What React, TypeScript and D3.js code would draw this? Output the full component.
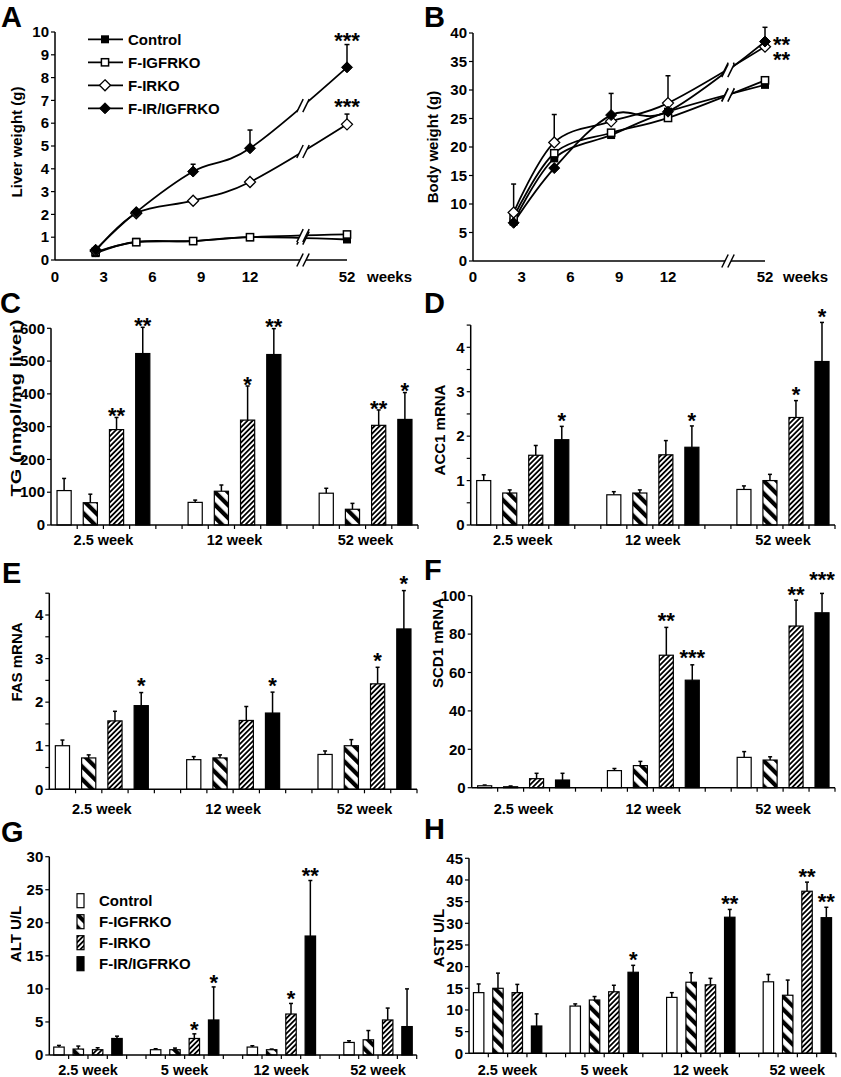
import React from 'react';
import * as d3 from 'd3';

const FONT = "'Liberation Sans', Arial, Helvetica, sans-serif";

const seriesNames = ['Control', 'F-IGFRKO', 'F-IRKO', 'F-IR/IGFRKO'];

// ---------- Panels A & B (line charts) ----------
const lineWeeks = [2.5, 5, 8.5, 12, 52];
const weekTicks = [0, 3, 6, 9, 12, 52];

const liverControl = [0.3, 0.8, 0.83, 1.0, 0.9];
const liverIgfrko = [0.35, 0.78, 0.83, 1.0, 1.12];
const liverIrko = [0.4, 2.05, 2.6, 3.42, 5.95];
const liverDko = [0.45, 2.1, 3.88, 4.9, 8.45];
const liverControlErr = [0, 0, 0, 0, 0];
const liverIgfrkoErr = [0, 0, 0, 0, 0];
const liverIrkoErr = [0, 0, 0, 0, 0.45];
const liverDkoErr = [0, 0, 0.32, 0.8, 1.0];
const liverStars = ['', '', '***', '***'];
const liverTicks = [0, 1, 2, 3, 4, 5, 6, 7, 8, 9, 10];

const bodyControl = [6.9, 18.0, 22.1, 26.2, 30.9];
const bodyIgfrko = [7.7, 18.9, 22.5, 25.1, 31.7];
const bodyIrko = [8.5, 20.8, 24.5, 27.7, 37.6];
const bodyDko = [6.7, 16.3, 25.6, 26.2, 38.5];
const bodyControlErr = [0, 0, 0, 0, 0];
const bodyIgfrkoErr = [0, 0, 0, 0, 0.6];
const bodyIrkoErr = [5.0, 4.9, 0, 4.8, 0];
const bodyDkoErr = [0, 0, 3.8, 0, 2.5];
const bodyStars = ['', '', '**', '**'];
const bodyTicks = [0, 5, 10, 15, 20, 25, 30, 35, 40];

// ---------- Bar panels ----------
const groups3 = ['2.5 week', '12 week', '52 week'];
const groups4 = ['2.5 week', '5 week', '12 week', '52 week'];

// C: TG
const tgControl = [105, 69, 97];
const tgIgfrko = [68, 103, 48];
const tgIrko = [291, 320, 304];
const tgDko = [523, 520, 322];
const tgControlErr = [37, 7, 15];
const tgIgfrkoErr = [26, 19, 18];
const tgIrkoErr = [37, 104, 47];
const tgDkoErr = [80, 79, 82];
const tgIrkoStars = ['**', '*', '**'];
const tgDkoStars = ['**', '**', '*'];
const tgTicks = [0, 100, 200, 300, 400, 500, 600];

// D: ACC1
const acc1Control = [1.0, 0.68, 0.8];
const acc1Igfrko = [0.72, 0.72, 1.0];
const acc1Irko = [1.57, 1.58, 2.42];
const acc1Dko = [1.92, 1.75, 3.68];
const acc1ControlErr = [0.13, 0.07, 0.08];
const acc1IgfrkoErr = [0.07, 0.07, 0.14];
const acc1IrkoErr = [0.22, 0.32, 0.38];
const acc1DkoErr = [0.3, 0.48, 0.88];
const acc1IrkoStars = ['', '', '*'];
const acc1DkoStars = ['*', '*', '*'];
const mrnaTicks = [0, 1, 2, 3, 4];

// E: FAS
const fasControl = [1.0, 0.68, 0.8];
const fasIgfrko = [0.72, 0.72, 1.0];
const fasIrko = [1.57, 1.58, 2.42];
const fasDko = [1.92, 1.75, 3.68];
const fasControlErr = [0.13, 0.07, 0.08];
const fasIgfrkoErr = [0.07, 0.07, 0.14];
const fasIrkoErr = [0.22, 0.32, 0.38];
const fasDkoErr = [0.3, 0.48, 0.88];
const fasIrkoStars = ['', '', '*'];
const fasDkoStars = ['*', '*', '*'];

// F: SCD1
const scdControl = [1.0, 8.9, 15.8];
const scdIgfrko = [0.5, 11.5, 14.4];
const scdIrko = [4.7, 69, 84.2];
const scdDko = [4.0, 56, 91.1];
const scdControlErr = [0.4, 1.1, 3.0];
const scdIgfrkoErr = [0.4, 2.2, 1.7];
const scdIrkoErr = [2.8, 14.5, 13.5];
const scdDkoErr = [3.5, 8, 10.1];
const scdIrkoStars = ['', '**', '**'];
const scdDkoStars = ['', '***', '***'];
const scdTicks = [0, 20, 40, 60, 80, 100];

// G: ALT
const altControl = [1.2, 0.8, 1.2, 1.9];
const altIgfrko = [0.9, 0.8, 0.8, 2.3];
const altIrko = [0.8, 2.5, 6.2, 5.3];
const altDko = [2.5, 5.3, 18.0, 4.3];
const altControlErr = [0.25, 0.15, 0.2, 0.25];
const altIgfrkoErr = [0.45, 0.25, 0.1, 1.4];
const altIrkoErr = [0.3, 0.7, 1.6, 1.8];
const altDkoErr = [0.35, 5.0, 8.4, 5.7];
const altIrkoStars = ['', '*', '*', ''];
const altDkoStars = ['', '*', '**', ''];
const altTicks = [0, 5, 10, 15, 20, 25, 30];

// H: AST
const astControl = [14.0, 10.9, 12.9, 16.5];
const astIgfrko = [15.0, 12.3, 16.4, 13.4];
const astIrko = [14.0, 14.2, 15.8, 37.4];
const astDko = [6.3, 18.7, 31.4, 31.3];
const astControlErr = [2.0, 0.5, 1.1, 1.7];
const astIgfrkoErr = [3.5, 0.8, 2.2, 3.5];
const astIrkoErr = [1.9, 1.5, 1.5, 2.1];
const astDkoErr = [2.8, 1.6, 1.8, 2.4];
const astIrkoStars = ['', '', '', '**'];
const astDkoStars = ['', '*', '**', '**'];
const astTicks = [0, 5, 10, 15, 20, 25, 30, 35, 40, 45];

const STAR_FS = 22;

function cardinalYAt(px: number[], py: number[], xt: number): number {
  const n = px.length;
  const k = 1 / 6;
  for (let i = 0; i < n - 1; i++) {
    if (xt >= px[i] && xt <= px[i + 1]) {
      const x0 = i > 0 ? px[i - 1] : px[i + 1];
      const y0 = i > 0 ? py[i - 1] : py[i + 1];
      const x3 = i + 2 < n ? px[i + 2] : px[i];
      const y3 = i + 2 < n ? py[i + 2] : py[i];
      const c1x = px[i] + k * (px[i + 1] - x0);
      const c1y = py[i] + k * (py[i + 1] - y0);
      const c2x = px[i + 1] + k * (px[i] - x3);
      const c2y = py[i + 1] + k * (py[i] - y3);
      const bz = (a: number, b: number, c: number, d: number, t: number) =>
        (1 - t) ** 3 * a + 3 * (1 - t) ** 2 * t * b + 3 * (1 - t) * t * t * c + t ** 3 * d;
      let lo = 0, hi = 1;
      for (let it = 0; it < 40; it++) {
        const m = (lo + hi) / 2;
        if (bz(px[i], c1x, c2x, px[i + 1], m) < xt) lo = m; else hi = m;
      }
      return bz(py[i], c1y, c2y, py[i + 1], (lo + hi) / 2);
    }
  }
  return py[n - 1];
}

function BreakMark({ cx, cy }: { cx: number; cy: number }) {
  const g = 3, h = 6.5, s = 3.2;
  return (
    <g>
      <polygon
        points={`${cx - g - s},${cy + h} ${cx + g - s},${cy + h} ${cx + g + s},${cy - h} ${cx - g + s},${cy - h}`}
        fill="#fff"
      />
      <line x1={cx - g - s} y1={cy + h} x2={cx - g + s} y2={cy - h} stroke="#000" strokeWidth={1.5} />
      <line x1={cx + g - s} y1={cy + h} x2={cx + g + s} y2={cy - h} stroke="#000" strokeWidth={1.5} />
    </g>
  );
}

function Marker({ kind, cx, cy }: { kind: number; cx: number; cy: number }) {
  if (kind === 0) return <rect x={cx - 4} y={cy - 4} width={8} height={8} fill="#000" />;
  if (kind === 1)
    return <rect x={cx - 3.6} y={cy - 3.6} width={7.2} height={7.2} fill="#fff" stroke="#000" strokeWidth={1.5} />;
  const r = 5.5;
  const d = `M${cx},${cy - r}L${cx + r},${cy}L${cx},${cy + r}L${cx - r},${cy}Z`;
  if (kind === 2) return <path d={d} fill="#fff" stroke="#000" strokeWidth={1.3} />;
  return <path d={d} fill="#000" stroke="#000" strokeWidth={1} />;
}

function PanelLetter({ x, y, t }: { x: number; y: number; t: string }) {
  return (
    <text x={x} y={y} fontSize={29} fontWeight="bold">
      {t}
    </text>
  );
}

function YTitle({ cx, cy, t, len }: { cx: number; cy: number; t: string; len?: number }) {
  return (
    <text
      transform={`translate(${cx},${cy}) rotate(-90)`}
      textAnchor="middle"
      dy="0.35em"
      fontSize={15}
      fontWeight="bold"
      {...(len ? { textLength: len, lengthAdjust: 'spacingAndGlyphs' } : {})}
    >
      {t}
    </text>
  );
}

function LinePanel(p: any) {
  const { L, vals, errs, stars, yMax, ticks, legend } = p;
  const x = d3.scaleLinear().domain([0, 12, 52]).range([L.left, L.x12, L.x52]);
  const y = d3.scaleLinear().domain([0, yMax]).range([L.y0, L.yTop]);
  const line = d3
    .line<number>()
    .x((_, i) => x(lineWeeks[i]))
    .y((d) => y(d))
    .curve(d3.curveCardinal.tension(0));
  const px = lineWeeks.map((w) => x(w));
  const last = lineWeeks.length - 1;
  const starItems = stars
    .map((s: string, si: number) => ({ s, si }))
    .filter((o: any) => o.s);
  return (
    <g>
      <line x1={L.left} y1={L.y0} x2={L.x52} y2={L.y0} stroke="#000" strokeWidth={1.5} />
      <line x1={L.left} y1={L.y0} x2={L.left} y2={L.yTop} stroke="#000" strokeWidth={1.5} />
      {ticks.map((t: number) => (
        <g key={t}>
          <line x1={L.left - 4} x2={L.left} y1={y(t)} y2={y(t)} stroke="#000" strokeWidth={1.2} />
          <text x={L.left - 6} y={y(t)} dy="0.35em" textAnchor="end" fontSize={15} fontWeight="bold">
            {t}
          </text>
        </g>
      ))}
      {weekTicks.map((w) => (
        <text key={w} x={x(w)} y={L.xLabY} textAnchor="middle" fontSize={15} fontWeight="bold">
          {w}
        </text>
      ))}
      <text x={L.weeksX} y={L.xLabY} fontSize={15} fontWeight="bold">
        weeks
      </text>
      <BreakMark cx={L.brk} cy={L.y0} />
      {vals.map((v: number[], si: number) => (
        <path key={si} d={line(v) || ''} fill="none" stroke="#000" strokeWidth={1.8} />
      ))}
      {vals.map((v: number[], si: number) => (
        <BreakMark key={si} cx={L.brk} cy={cardinalYAt(px, v.map((d) => y(d)), L.brk)} />
      ))}
      {vals.map((v: number[], si: number) =>
        v.map((d, i) =>
          errs[si][i] > 0 ? (
            <g key={`${si}-${i}`}>
              <line x1={px[i]} x2={px[i]} y1={y(d)} y2={y(d + errs[si][i])} stroke="#000" strokeWidth={1.5} />
              <line x1={px[i] - 2.5} x2={px[i] + 2.5} y1={y(d + errs[si][i])} y2={y(d + errs[si][i])} stroke="#000" strokeWidth={1.5} />
            </g>
          ) : null
        )
      )}
      {vals.map((v: number[], si: number) =>
        v.map((d, i) => <Marker key={`${si}-${i}`} kind={si} cx={px[i]} cy={y(d)} />)
      )}
      {L.starRight ? (
        <text fontSize={STAR_FS} fontWeight="bold">
          {starItems
            .slice()
            .reverse()
            .map((o: any) => (
              <tspan key={o.si} x={L.x52 + 8} y={y(vals[o.si][last]) + L.starDy[o.si]}>
                {o.s}
              </tspan>
            ))}
        </text>
      ) : (
        starItems.map((o: any) => {
          const top = vals[o.si][last] + errs[o.si][last];
          return (
            <text key={o.si} x={x(52)} y={y(top) - L.starGap[o.si] + 0.44 * STAR_FS} textAnchor="middle" fontSize={STAR_FS} fontWeight="bold">
              {o.s}
            </text>
          );
        })
      )}
      {legend &&
        seriesNames.map((n, i) => {
          const ly = L.legY + i * L.legStep;
          return (
            <g key={n}>
              <line x1={L.legX} x2={L.legX + 35} y1={ly} y2={ly} stroke="#000" strokeWidth={1.8} />
              <Marker kind={i} cx={L.legX + 17} cy={ly} />
              <text x={L.legX + 40} y={ly} dy="0.35em" fontSize={15} fontWeight="bold">
                {n}
              </text>
            </g>
          );
        })}
    </g>
  );
}

const fills = ['#fff', 'url(#pIgf)', 'url(#pIr)', '#000'];

function BarPanel(p: any) {
  const { L, groups, means, errs, stars, yMax, axisMax, tickStep, labelTicks, legend } = p;
  const nSlots = groups.length * 5 - 1;
  const xs = d3.scaleBand<number>().domain(d3.range(nSlots)).range([L.left, L.right]);
  const y = d3.scaleLinear().domain([0, yMax]).range([L.y0, L.yTop]);
  const step = xs.step();
  const bw = step * 0.54;
  const minor = d3.range(0, axisMax + tickStep / 2, tickStep);
  const boundaries = d3.range(1, nSlots + 1).map((k) => L.left + k * step);
  return (
    <g>
      {means.map((m: number[], si: number) =>
        m.map((v, gi) => {
          const cx = (xs(gi * 5 + si) as number) + step / 2;
          const top = y(v + errs[si][gi]);
          return (
            <g key={`${si}-${gi}`}>
              <line x1={cx} x2={cx} y1={y(v)} y2={top} stroke="#000" strokeWidth={1.5} />
              <line x1={cx - 2} x2={cx + 2} y1={top} y2={top} stroke="#000" strokeWidth={1.5} />
              <rect x={cx - bw / 2} y={y(v)} width={bw} height={L.y0 - y(v)} fill={fills[si]} stroke="#000" strokeWidth={1.2} />
            </g>
          );
        })
      )}
      {stars.map((sArr: string[], si: number) =>
        sArr.map((s, gi) => {
          if (!s) return null;
          const ser = si + 2;
          const cx = (xs(gi * 5 + ser) as number) + step / 2;
          const top = y(means[ser][gi] + errs[ser][gi]);
          const gap = (L.starGaps && L.starGaps[si] && L.starGaps[si][gi]) || L.starGap;
          return (
            <text key={`${si}-${gi}`} x={cx} y={top - gap + 0.44 * STAR_FS} textAnchor="middle" fontSize={STAR_FS} fontWeight="bold">
              {s}
            </text>
          );
        })
      )}
      <line x1={L.left} y1={L.y0} x2={L.right} y2={L.y0} stroke="#000" strokeWidth={1.5} />
      <line x1={L.left} y1={L.y0} x2={L.left} y2={y(axisMax)} stroke="#000" strokeWidth={1.5} />
      {boundaries.map((bx, i) => (
        <line key={i} x1={bx} x2={bx} y1={L.y0} y2={L.y0 + 4} stroke="#000" strokeWidth={1.2} />
      ))}
      {minor.map((t: number, i: number) => (
        <line key={i} x1={L.left - 4} x2={L.left} y1={y(t)} y2={y(t)} stroke="#000" strokeWidth={1.2} />
      ))}
      {labelTicks.map((t: number) => (
        <text key={t} x={L.left - 6} y={y(t)} dy="0.35em" textAnchor="end" fontSize={15} fontWeight="bold">
          {t}
        </text>
      ))}
      {groups.map((g: string, gi: number) => (
        <text key={g} x={(xs(gi * 5) as number) + 2 * step} y={L.labY} textAnchor="middle" fontSize={14.5} fontWeight="bold">
          {g}
        </text>
      ))}
      {legend &&
        seriesNames.map((n, i) => {
          const ly = L.legY + i * L.legStep;
          return (
            <g key={n}>
              <rect x={L.legX} y={ly - 7} width={7} height={14} fill={fills[i]} stroke="#000" strokeWidth={1.2} />
              <text x={L.legX + 22} y={ly} dy="0.35em" fontSize={15} fontWeight="bold">
                {n}
              </text>
            </g>
          );
        })}
    </g>
  );
}

export default function App() {
  return (
    <svg
      width={841}
      height={1077}
      style={{ position: 'absolute', left: 0, top: 0, background: '#fff', fontFamily: FONT }}
      fontFamily={FONT}
    >
      <defs>
        <pattern id="pIgf" patternUnits="userSpaceOnUse" width={9} height={9} patternTransform="rotate(-45)">
          <rect width={9} height={9} fill="#fff" />
          <rect width={4.2} height={9} fill="#000" />
        </pattern>
        <pattern id="pIr" patternUnits="userSpaceOnUse" width={3.6} height={3.6} patternTransform="rotate(45)">
          <rect width={3.6} height={3.6} fill="#fff" />
          <rect width={1.8} height={3.6} fill="#000" />
        </pattern>
      </defs>
      <rect width={841} height={1077} fill="#fff" />

      {/* A */}
      <PanelLetter x={1} y={27} t="A" />
      <YTitle cx={17} cy={142} t="Liver weight (g)" />
      <LinePanel
        L={{ left: 55, x12: 250, x52: 347, brk: 303, y0: 260, yTop: 32, xLabY: 282, weeksX: 367,
          starGap: [0, 0, 10, 6.5], legX: 88, legY: 39.3, legStep: 23 }}
        vals={[liverControl, liverIgfrko, liverIrko, liverDko]}
        errs={[liverControlErr, liverIgfrkoErr, liverIrkoErr, liverDkoErr]}
        stars={liverStars}
        yMax={10}
        ticks={liverTicks}
        legend
      />

      {/* B */}
      <PanelLetter x={424} y={27} t="B" />
      <YTitle cx={433} cy={147} t="Body weight (g)" />
      <LinePanel
        L={{ left: 473, x12: 668, x52: 765, brk: 728, y0: 261, yTop: 33, xLabY: 282, weeksX: 783,
          starRight: true, starDy: [0, 0, 20, 10] }}
        vals={[bodyControl, bodyIgfrko, bodyIrko, bodyDko]}
        errs={[bodyControlErr, bodyIgfrkoErr, bodyIrkoErr, bodyDkoErr]}
        stars={bodyStars}
        yMax={40}
        ticks={bodyTicks}
      />

      {/* C */}
      <PanelLetter x={0} y={313} t="C" />
      <YTitle cx={16} cy={408} t="TG (nmol/mg liver)" len={177} />
      <BarPanel
        L={{ left: 51, right: 418, y0: 525, yTop: 328.3, labY: 545, starGap: 4 }}
        groups={groups3}
        means={[tgControl, tgIgfrko, tgIrko, tgDko]}
        errs={[tgControlErr, tgIgfrkoErr, tgIrkoErr, tgDkoErr]}
        stars={[tgIrkoStars, tgDkoStars]}
        yMax={600}
        axisMax={600}
        tickStep={100}
        labelTicks={tgTicks}
      />

      {/* D */}
      <PanelLetter x={424} y={313} t="D" />
      <YTitle cx={440} cy={430} t="ACC1 mRNA" />
      <BarPanel
        L={{ left: 470.7, right: 835, y0: 525, yTop: 347.3, labY: 545, starGap: 8 }}
        groups={groups3}
        means={[acc1Control, acc1Igfrko, acc1Irko, acc1Dko]}
        errs={[acc1ControlErr, acc1IgfrkoErr, acc1IrkoErr, acc1DkoErr]}
        stars={[acc1IrkoStars, acc1DkoStars]}
        yMax={4}
        axisMax={4.5}
        tickStep={0.5}
        labelTicks={mrnaTicks}
      />

      {/* E */}
      <PanelLetter x={2} y={583} t="E" />
      <YTitle cx={17} cy={662} t="FAS mRNA" />
      <BarPanel
        L={{ left: 49.3, right: 417, y0: 789.3, yTop: 615, labY: 814, starGap: 9 }}
        groups={groups3}
        means={[fasControl, fasIgfrko, fasIrko, fasDko]}
        errs={[fasControlErr, fasIgfrkoErr, fasIrkoErr, fasDkoErr]}
        stars={[fasIrkoStars, fasDkoStars]}
        yMax={4}
        axisMax={4.5}
        tickStep={0.5}
        labelTicks={mrnaTicks}
      />

      {/* F */}
      <PanelLetter x={424} y={580} t="F" />
      <YTitle cx={438} cy={643} t="SCD1 mRNA" />
      <BarPanel
        L={{ left: 471.7, right: 835, y0: 787.7, yTop: 595.7, labY: 814, starGap: 9,
          starGaps: [[0, 0, 8], [0, 10, 16]] }}
        groups={groups3}
        means={[scdControl, scdIgfrko, scdIrko, scdDko]}
        errs={[scdControlErr, scdIgfrkoErr, scdIrkoErr, scdDkoErr]}
        stars={[scdIrkoStars, scdDkoStars]}
        yMax={100}
        axisMax={100}
        tickStep={20}
        labelTicks={scdTicks}
      />

      {/* G */}
      <PanelLetter x={1} y={842} t="G" />
      <YTitle cx={16} cy={934} t="ALT U/L" />
      <BarPanel
        L={{ left: 49.3, right: 416.7, y0: 1055, yTop: 856.7, labY: 1075, starGap: 7,
          legX: 77, legY: 900.7, legStep: 21 }}
        groups={groups4}
        means={[altControl, altIgfrko, altIrko, altDko]}
        errs={[altControlErr, altIgfrkoErr, altIrkoErr, altDkoErr]}
        stars={[altIrkoStars, altDkoStars]}
        yMax={30}
        axisMax={30}
        tickStep={5}
        labelTicks={altTicks}
        legend
      />

      {/* H */}
      <PanelLetter x={424} y={839} t="H" />
      <YTitle cx={439} cy={938} t="AST U/L" />
      <BarPanel
        L={{ left: 469, right: 836, y0: 1053.3, yTop: 858.3, labY: 1075, starGap: 8 }}
        groups={groups4}
        means={[astControl, astIgfrko, astIrko, astDko]}
        errs={[astControlErr, astIgfrkoErr, astIrkoErr, astDkoErr]}
        stars={[astIrkoStars, astDkoStars]}
        yMax={45}
        axisMax={45}
        tickStep={5}
        labelTicks={astTicks}
      />
    </svg>
  );
}
